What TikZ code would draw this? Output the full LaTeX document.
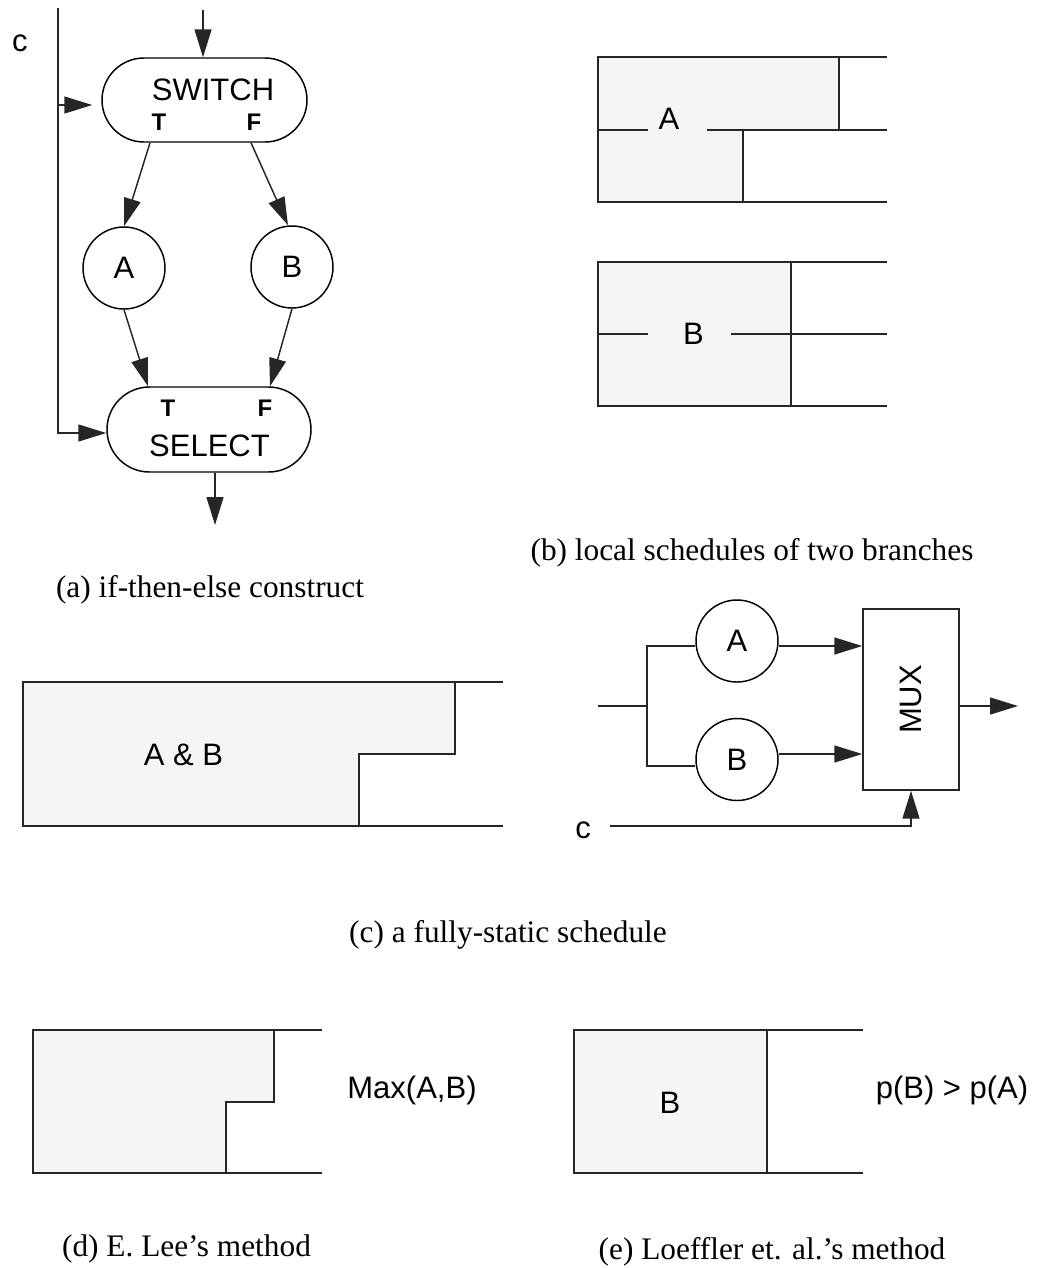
\documentclass[tikz,border=0pt]{standalone}
\usepackage{fontspec}
\setmainfont{Liberation Serif}
\setsansfont{Liberation Sans}
\usetikzlibrary{shapes.misc,arrows.meta,calc}
\begin{document}
\begin{tikzpicture}[x=0.75pt,y=-0.75pt,
  ln/.style={line width=1.1pt, draw=black!85},
  arr/.style={ln,-{Triangle[length=21pt,width=12.75pt]}},
  lbl/.style={font=\sffamily\fontsize{23.25}{26}\selectfont, inner sep=0pt},
  tf/.style={font=\sffamily\bfseries\fontsize{18}{20}\selectfont, inner sep=0pt},
  captxt/.style={font=\rmfamily\fontsize{23.5}{26}\selectfont, inner sep=0pt},
  stadium/.style={rounded rectangle, draw=black, line width=1.1pt, minimum width=153.75pt, minimum height=63pt, inner sep=0pt},
  circ/.style={circle, draw=black, line width=1.1pt, minimum size=61.5pt, inner sep=0pt, font=\sffamily\fontsize{23.25}{26}\selectfont},
  sched/.style={ln, fill=black!4},
  muxbox/.style={draw=black!85, line width=1.1pt, minimum width=72pt, minimum height=135.75pt, inner sep=0pt},
]
\useasboundingbox (0,0) rectangle (1037,1268);

% ---------------- (a) ----------------
\node[stadium] (sw) at (204.5,100) {};
\node[lbl] (swt) at (213,90) {SWITCH};
\node[tf] (swT) at (159,122) {T};
\node[tf] (swF) at (254,122) {F};
\node[circ] (A) at (124,268) {A};
\node[circ] (B) at (292,267) {B};
\node[stadium, minimum height=63.75pt, minimum width=153pt] (sel) at (209,429.5) {};
\node[tf] (selT) at (168,408.5) {T};
\node[tf] (selF) at (265,408.5) {F};
\node[lbl] (selt) at (209.5,446) {SELECT};
\node[lbl] (cl) at (20,43.5) {c};

\coordinate (ctop) at (58,8);
\coordinate (cj) at (58,105);
\coordinate (cbot) at (58,433);
\coordinate (inp) at (203,10);
\coordinate (outp) at (215,525);

\draw[arr] (inp) -- (inp |- sw.north);
\draw[arr] (ctop) -- (cbot) -- (cbot -| sel.west);
\draw[arr, shorten >=6.75pt] (cj) -- (cj -| sw.west);
\draw[arr] ($(sw.south)+(-54.5,0)$) -- (A.north);
\draw[arr] ($(sw.south)+(46.5,0)$) -- ($(B.north)+(-4,0)$);
\draw[arr] (A.south) -- ($(sel.north)+(-61,0)$);
\draw[arr] (B.south) -- ($(sel.north)+(61,0)$);
\draw[arr] (outp |- sel.south) -- (outp);

\node[captxt] (capa) at (210,590) {(a) if-then-else construct};

% ---------------- (b) ----------------
\draw[sched] (598,57) -- (839,57) -- (839,130) -- (743,130) -- (743,202) -- (598,202) -- cycle;
\draw[ln] (839,57) -- (887,57);
\draw[ln] (743,202) -- (887,202);
\draw[ln] (598,130) -- (648,130);
\draw[ln] (707,130) -- (887,130);
\node[lbl] (bA) at (669,119) {A};

\draw[sched] (598,262) rectangle (791,406);
\draw[ln] (791,262) -- (887,262);
\draw[ln] (791,406) -- (887,406);
\draw[ln] (598,334) -- (648,334);
\draw[ln] (731,334) -- (887,334);
\node[lbl] (bB) at (693.5,333.5) {B};

\node[captxt] (capb) at (752,553) {(b) local schedules of two branches};

% ---------------- (c) ----------------
\draw[sched] (23,682) -- (455,682) -- (455,754) -- (359,754) -- (359,826) -- (23,826) -- cycle;
\draw[ln] (455,682) -- (503,682);
\draw[ln] (359,826) -- (503,826);
\node[lbl] (cAB) at (183.5,755) {A \& B};

\node[circ] (cA) at (737,641) {A};
\node[circ] (cB) at (737,759.5) {B};
\node[muxbox] (mux) at (911,699.5) {};
\node[lbl, rotate=90] (muxl) at (mux.center) {MUX};

\coordinate (cin) at (598,706);
\coordinate (cj0) at (647,706);
\coordinate (ja) at (647,646);
\coordinate (jb) at (647,766);
\coordinate (jb2) at (647,754);
\coordinate (mo) at (1018,706);
\coordinate (cs) at (610,826);

\draw[ln] (cin) -- (cj0);
\draw[ln] (ja -| cA.west) -- (ja) -- (jb) -- (jb -| cB.west);
\draw[arr] (cA.east |- ja) -- (ja -| mux.west);
\draw[arr] (cB.east |- jb2) -- (jb2 -| mux.west);
\draw[arr] (mo -| mux.east) -- (mo);
\draw[arr] (cs) -| (mux.south);
\node[lbl] (cl2) at (583,830) {c};

\node[captxt] (capc) at (508,935) {(c) a fully-static schedule};

% ---------------- (d) ----------------
\draw[sched] (33,1030) -- (274,1030) -- (274,1102) -- (226,1102) -- (226,1173) -- (33,1173) -- cycle;
\draw[ln] (274,1030) -- (322,1030);
\draw[ln] (226,1173) -- (322,1173);
\node[lbl] (dmax) at (412,1090) {Max(A,B)};
\node[captxt] (capd) at (186.5,1249) {(d) E. Lee’s method};

% ---------------- (e) ----------------
\draw[sched] (574,1030) rectangle (767,1173);
\draw[ln] (767,1030) -- (863,1030);
\draw[ln] (767,1173) -- (863,1173);
\node[lbl] (eB) at (670,1103) {B};
\node[lbl] (ep) at (952,1090) {p(B) > p(A)};
\node[captxt] (cape) at (772,1252) {(e) Loeffler et. al.’s method};
\end{tikzpicture}
\end{document}
